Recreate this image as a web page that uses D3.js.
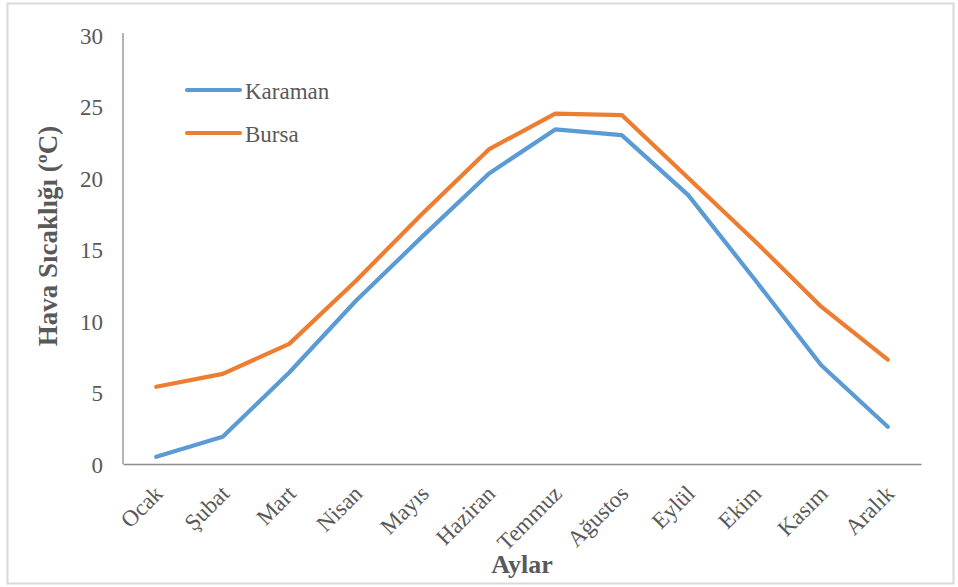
<!DOCTYPE html>
<html>
<head>
<meta charset="utf-8">
<script src="https://cdn.jsdelivr.net/npm/d3@7"></script>
<style>
  html, body { margin: 0; padding: 0; background: #fff; }
  svg { display: block; }
</style>
</head>
<body>
<svg id="chart" width="958" height="587"></svg>
<script>
// Monthly mean air temperature (°C)
const months = ["Ocak", "Şubat", "Mart", "Nisan", "Mayıs", "Haziran",
                "Temmuz", "Ağustos", "Eylül", "Ekim", "Kasım", "Aralık"];
const karaman = [0.5, 1.9, 6.4, 11.4, 15.9, 20.3, 23.4, 23.0, 18.8, 12.9, 6.9, 2.6];
const bursa   = [5.4, 6.3, 8.4, 12.8, 17.5, 22.0, 24.5, 24.4, 20.0, 15.6, 11.0, 7.3];
const yTicks  = [0, 5, 10, 15, 20, 25, 30];

const seriesList = [
  { name: "Karaman", values: karaman, color: "#5B9BD5" },
  { name: "Bursa",   values: bursa,   color: "#ED7D31" }
];

const FONT = "'Liberation Serif', 'Times New Roman', serif";
const TEXT = "#595959";

const svg = d3.select("#chart");
const W = 958, H = 587;
const plot = { left: 123, right: 921, top: 35, bottom: 464 };

// outer chart frame
svg.append("rect")
  .attr("x", 7.5).attr("y", 3.5)
  .attr("width", W - 12).attr("height", H - 7)
  .attr("fill", "#fff").attr("stroke", "#d9d9d9").attr("stroke-width", 2);

const x = d3.scaleBand().domain(months).range([plot.left, plot.right]).padding(0);
const y = d3.scaleLinear().domain([0, 30]).range([plot.bottom, plot.top]);

// y axis: labels only, with a plain vertical line
const yAxis = svg.append("g")
  .attr("transform", `translate(${plot.left},0)`)
  .call(d3.axisLeft(y).tickValues(yTicks).tickSize(0).tickPadding(20))
  .attr("font-family", FONT).attr("font-size", 23);
yAxis.select(".domain").remove();
yAxis.selectAll("text").attr("fill", TEXT).attr("dy", "0.36em");
svg.append("line")
  .attr("x1", plot.left).attr("x2", plot.left)
  .attr("y1", plot.top - 2).attr("y2", plot.bottom)
  .attr("stroke", "#8c8c8c").attr("stroke-width", 1.3);

// x axis with rotated month names
const xAxis = svg.append("g")
  .attr("transform", `translate(0,${plot.bottom})`)
  .call(d3.axisBottom(x).tickSize(0).tickPadding(0))
  .attr("font-family", FONT).attr("font-size", 23);
xAxis.select(".domain")
  .attr("stroke", "#8c8c8c").attr("stroke-width", 1.3);
xAxis.selectAll("text")
  .attr("fill", TEXT)
  .attr("text-anchor", "end")
  .attr("dy", "0")
  .attr("transform", "translate(8,31) rotate(-45)");

// series lines
const line = d3.line()
  .x((d, i) => x(months[i]) + x.bandwidth() / 2)
  .y(d => y(d));

svg.selectAll(".series")
  .data(seriesList)
  .join("path")
  .attr("class", "series")
  .attr("d", s => line(s.values))
  .attr("fill", "none")
  .attr("stroke", s => s.color)
  .attr("stroke-width", 4.2)
  .attr("stroke-linejoin", "round")
  .attr("stroke-linecap", "round");

// legend
const legend = svg.selectAll(".legend")
  .data(seriesList)
  .join("g")
  .attr("class", "legend")
  .attr("transform", (d, i) => `translate(187,${90 + i * 43})`);
legend.append("line")
  .attr("x1", 0).attr("x2", 53)
  .attr("stroke", d => d.color).attr("stroke-width", 4.2)
  .attr("stroke-linecap", "round");
legend.append("text")
  .attr("x", 58).attr("y", 9)
  .attr("font-family", FONT).attr("font-size", 23).attr("fill", TEXT)
  .text(d => d.name);

// axis titles
svg.append("text")
  .attr("transform", "translate(57,236) rotate(-90)")
  .attr("text-anchor", "middle")
  .attr("font-family", FONT).attr("font-size", 27).attr("font-weight", "bold")
  .attr("fill", TEXT)
  .text("Hava Sıcaklığı (ºC)");
svg.append("text")
  .attr("x", 522).attr("y", 573)
  .attr("text-anchor", "middle")
  .attr("font-family", FONT).attr("font-size", 26).attr("font-weight", "bold")
  .attr("fill", TEXT)
  .text("Aylar");
</script>
</body>
</html>
